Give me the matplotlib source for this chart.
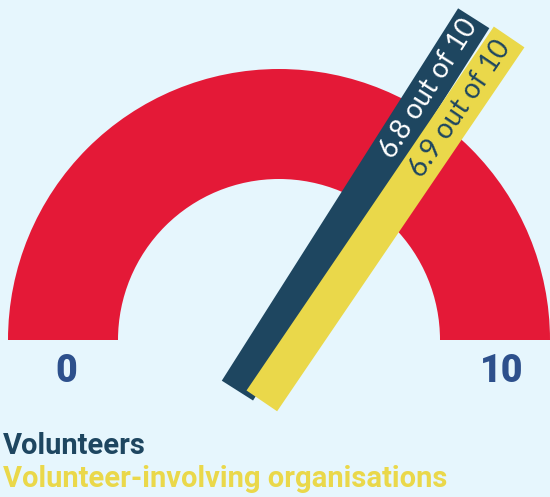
import matplotlib.pyplot as plt
from matplotlib.patches import Wedge, Polygon
import numpy as np

plt.rcParams['font.family'] = ['Lato', 'DejaVu Sans']
heavy = ['Roboto', 'DejaVu Sans']

# data
groups = ["Volunteers", "Volunteer-involving organisations"]
scores = [6.8, 6.9]
scale_min, scale_max = 0, 10
colors = ["#1e4660", "#ead84a"]
text_colors = ["white", "#1e4660"]

bg = "#e6f6fd"
red = "#e41937"
num_color = "#2d508c"

fig = plt.figure(figsize=(5.5, 4.97), dpi=100, facecolor=bg)
ax = fig.add_axes([0, 0, 1, 1])
ax.set_xlim(0, 550)
ax.set_ylim(0, 497)
ax.set_facecolor(bg)
ax.axis("off")

cx, cy = 279, 157
r_out, r_in = 271, 161
ax.add_patch(Wedge((cx, cy), r_out, 0, 180, width=r_out - r_in, color=red, lw=0))

def angle_of(v):
    return 180.0 * (1 - (v - scale_min) / (scale_max - scale_min))

# needles: perpendicular shift, start and end along the needle, in px
shifts = [-8, 20]
starts = [-65, -60]
ends = [376, 380]
half_w = 18.5

for i, v in enumerate(scores):
    a = np.radians(angle_of(v))
    u = np.array([np.cos(a), np.sin(a)])
    n = np.array([np.sin(a), -np.cos(a)])
    c = np.array([cx, cy]) + n * shifts[i]
    p0 = c + u * starts[i]
    p1 = c + u * ends[i]
    pts = [p0 - n * half_w, p1 - n * half_w, p1 + n * half_w, p0 + n * half_w]
    ax.add_patch(Polygon(pts, closed=True, color=colors[i], lw=0))
    tp = c + u * 293
    ax.text(tp[0], tp[1], f"{v} out of {scale_max}", rotation=angle_of(v),
            rotation_mode="anchor", ha="center", va="center",
            color=text_colors[i], fontsize=20)

mid_r = (r_out + r_in) / 2
ax.text(cx - mid_r + 3, 125, str(scale_min), ha="center", va="center",
        fontsize=27, fontweight="black", color=num_color, family=heavy)
ax.text(cx + mid_r + 7, 125, str(scale_max), ha="center", va="center",
        fontsize=27, fontweight="black", color=num_color, family=heavy)

ax.text(3, 51, groups[0], ha="left", va="center", fontsize=21,
        fontweight="bold", color=colors[0], family=heavy)
ax.text(3, 18, groups[1], ha="left", va="center", fontsize=21,
        fontweight="bold", color=colors[1], family=heavy)

fig.savefig("out.png", dpi=100, facecolor=bg)
